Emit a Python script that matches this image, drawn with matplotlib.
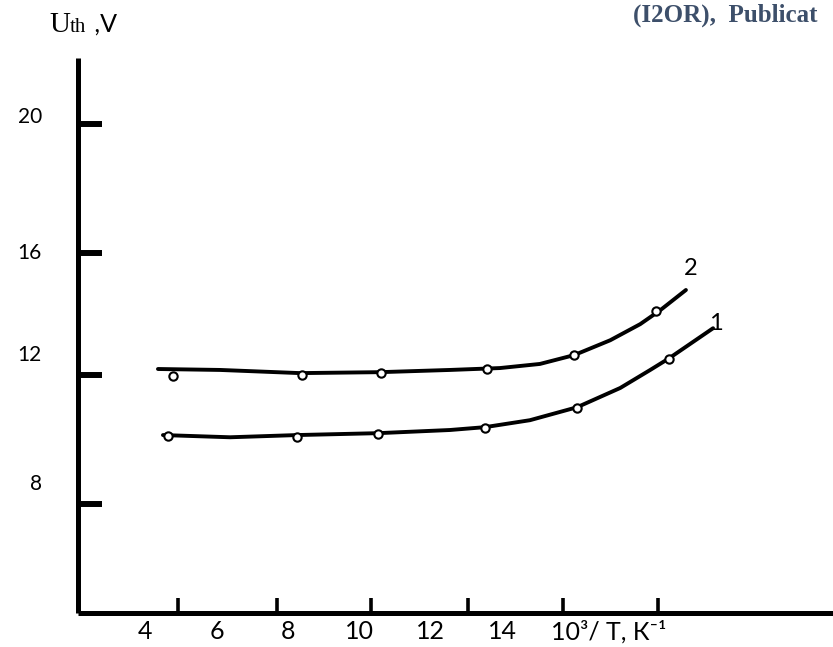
import matplotlib
matplotlib.use("Agg")
import matplotlib.pyplot as plt

plt.rcParams['font.family'] = ['Lato', 'DejaVu Sans']

# curve 2 (upper) and curve 1 (lower)
x2 = [4.36, 6.10, 8.34, 10.58, 12.54, 13.94, 15.06, 16.02, 17.03, 17.87, 18.43, 19.15]
y2 = [12.25, 12.22, 12.12, 12.15, 12.22, 12.28, 12.41, 12.69, 13.16, 13.67, 14.11, 14.75]
x1 = [4.50, 6.38, 8.26, 10.53, 12.54, 13.52, 14.78, 16.10, 17.31, 18.15, 18.68, 19.91]
y1 = [10.16, 10.09, 10.16, 10.22, 10.32, 10.41, 10.63, 11.04, 11.65, 12.22, 12.59, 13.54]

# measured points (open circles)
px2 = [4.78, 8.40, 10.61, 13.58, 16.02, 18.31]
py2 = [12.03, 12.06, 12.12, 12.25, 12.69, 14.08]
px1 = [4.64, 8.26, 10.53, 13.52, 16.10, 18.68]
py1 = [10.13, 10.09, 10.19, 10.38, 11.01, 12.56]

xtick_marks = [4.92, 7.70, 10.33, 13.05, 15.71, 18.37]
xlabel_pos = [4, 6, 8, 10, 12, 14, 17.0]
xlabels = ['4', '6', '8', '10', '12', '14', '10³/ T, К⁻¹']
ytick_marks = [20, 15.92, 12.06, 7.97]
ylabel_pos = [20.28, 15.98, 12.75, 8.67]
ylabels = ['20', '16', '12', '8']

fig = plt.figure(figsize=(8.33, 6.47), dpi=100)
ax = fig.add_axes([78/833, 1 - 613/647, 1 - 78/833, (613 - 58)/647])
ax.set_xlim(2.12, 23.27)
ax.set_ylim(4.53, 22.09)

for s in ['top', 'right']:
    ax.spines[s].set_visible(False)
for s in ['left', 'bottom']:
    ax.spines[s].set_linewidth(3.6)
    ax.spines[s].set_capstyle('butt')

ax.plot(x2, y2, color='black', lw=2.8, solid_capstyle='round')
ax.plot(x1, y1, color='black', lw=2.8, solid_capstyle='round')
ax.plot(px2, py2, 'o', ms=6, mfc='white', mec='black', mew=1.5)
ax.plot(px1, py1, 'o', ms=6, mfc='white', mec='black', mew=1.5)

ax.text(19.27, 15.44, '2', fontsize=17, ha='center', va='center')
ax.text(20.0, 13.70, '1', fontsize=17, ha='center', va='center')

ax.set_xticks(xtick_marks)
ax.set_xticklabels([])
ax.set_yticks(ytick_marks)
ax.set_yticklabels([])
ax.tick_params(axis='x', which='major', direction='in', length=11, width=2.6)
ax.tick_params(axis='y', which='major', direction='in', length=17, width=4.3)

ax.set_xticks(xlabel_pos, labels=xlabels, minor=True)
ax.set_yticks(ylabel_pos, labels=ylabels, minor=True)
ax.tick_params(axis='x', which='minor', length=0, pad=5, labelsize=18)
ax.tick_params(axis='y', which='minor', length=0, pad=26, labelsize=15)

# axis title
fig.text(49/833, 1 - 32/647, 'U', family='Liberation Serif', fontsize=21, ha='left', va='baseline')
fig.text(70/833, 1 - 32/647, 'th', family='Liberation Serif', fontsize=15, ha='left', va='baseline')
fig.text(88/833, 1 - 32/647, ' ,V', fontsize=18, ha='left', va='baseline')

# page header (cropped in the source)
fig.text(633/833, 1 - 15/647, '(I2OR),  Publicat', family='Liberation Serif',
         fontweight='bold', fontsize=18, color='#3d4f6a', ha='left', va='center')

fig.savefig('out.png', dpi=100)
